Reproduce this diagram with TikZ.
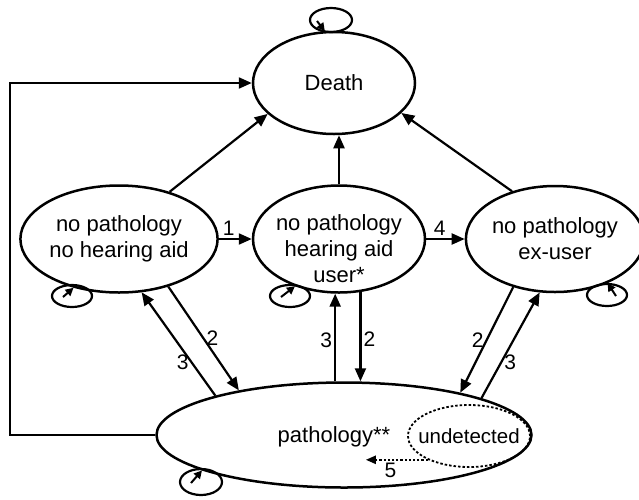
\documentclass[tikz,border=0pt]{standalone}
\usepackage{fontspec}
\setmainfont{Liberation Sans}
\usetikzlibrary{shapes.geometric,arrows.meta}

\begin{document}
\begin{tikzpicture}[x=1pt,y=-1pt]
	\tikzstyle{State} = [ellipse, draw=black, line width=2.5pt, inner sep=0pt, align=center, font=\fontsize{22}{26}\selectfont]
	\tikzstyle{Text} = [align=center, inner sep=0pt, font=\fontsize{22}{26}\selectfont]
	\tikzstyle{Num} = [inner sep=2pt, font=\fontsize{21}{22}\selectfont]
	\tikzstyle{arrow} = [line width=2.2pt,-{Triangle[length=13pt,width=11pt]}]
	\tikzstyle{Loop} = [line width=2.2pt]
	\tikzstyle{loop arrow} = [line width=2pt,-{Triangle[length=8pt,width=8pt]}]
	\tikzstyle{dotarrow} = [line width=2.2pt, dotted, -{Triangle[length=10pt,width=8pt]}]
	
	\useasboundingbox (0,0) rectangle (639,499);
	
	\node (death) [State, minimum width=162pt, minimum height=102pt] at (334,83) {Death};
	\node (noaid) [State, minimum width=172pt, minimum height=107pt] at (119,239) {no pathology\\no hearing aid};
	\node (user) [State, minimum width=172pt, minimum height=107pt] at (339,239) {};
	\node (usertext) [Text] at (339,249) {no pathology\\hearing aid\\user*};
	\node (exuser) [State, minimum width=164pt, minimum height=106pt] at (555,239) {no pathology\\ex-user};
	\node (patho) [State, minimum width=375pt, minimum height=105pt] at (344,435) {};
	\node (pathotext) [Text] at (334,437) {pathology**};
	\node (undet) [State, dotted, line width=1.8pt, inner xsep=-8pt, minimum width=122pt, minimum height=62pt, font=\fontsize{20.5}{24}\selectfont] at (469,436) {undetected};
	\coordinate (corner) at (10,435);
	
	% transitions to death
	\draw[arrow] (noaid.43) -- (death.-155);
	\draw[arrow] (user.north) -- (user.north |- death.south);
	\draw[arrow] (exuser.132) -- (death.-24);
	\draw[arrow] (patho.west) -- (corner) |- (death.west);
	
	% transitions between the states
	\draw[arrow] (noaid.east) -- node[Num, pos=0.3, above] {1} (user.west);
	\draw[arrow] (user.east) -- node[Num, pos=0.35, above] {4} (exuser.west);
	\draw[arrow] (patho.163) -- node[Num, pos=0.32, left] {3} (noaid.-67);
	\draw[arrow] (noaid.-44) -- node[Num, pos=0.5, right] {2} (patho.157);
	\draw[arrow] (user.-94 |- patho.north) -- node[Num, pos=0.47, left] {3} (user.-94);
	\draw[arrow] (user.-68) -- node[Num, pos=0.53, right] {2} (user.-68 |- patho.north);
	\draw[arrow] (exuser.-131) -- node[Num, pos=0.5, left] {2} (patho.20);
	\draw[arrow] (patho.15) -- node[Num, pos=0.34, right] {3} (exuser.-106);
	\draw[dotarrow] (undet.-150) -- ++(-62,0) node[Num, pos=0.6, below] {5};
	
	% self loops
	\draw[Loop] (331,20) ellipse [x radius=21, y radius=12];
	\draw[loop arrow] (317,21) -- (death.100);
	\draw[Loop] (72,296) ellipse [x radius=20, y radius=11];
	\draw[loop arrow] (63,297) -- (noaid.-133);
	\draw[Loop] (290,296) ellipse [x radius=20, y radius=11];
	\draw[loop arrow] (281,297) -- (user.-133);
	\draw[Loop] (607,295) ellipse [x radius=20, y radius=11];
	\draw[loop arrow] (616,296) -- (exuser.-40);
	\draw[Loop] (201,482) ellipse [x radius=21, y radius=13];
	\draw[loop arrow] (191,483) -- (patho.-166);
\end{tikzpicture}
\end{document}
